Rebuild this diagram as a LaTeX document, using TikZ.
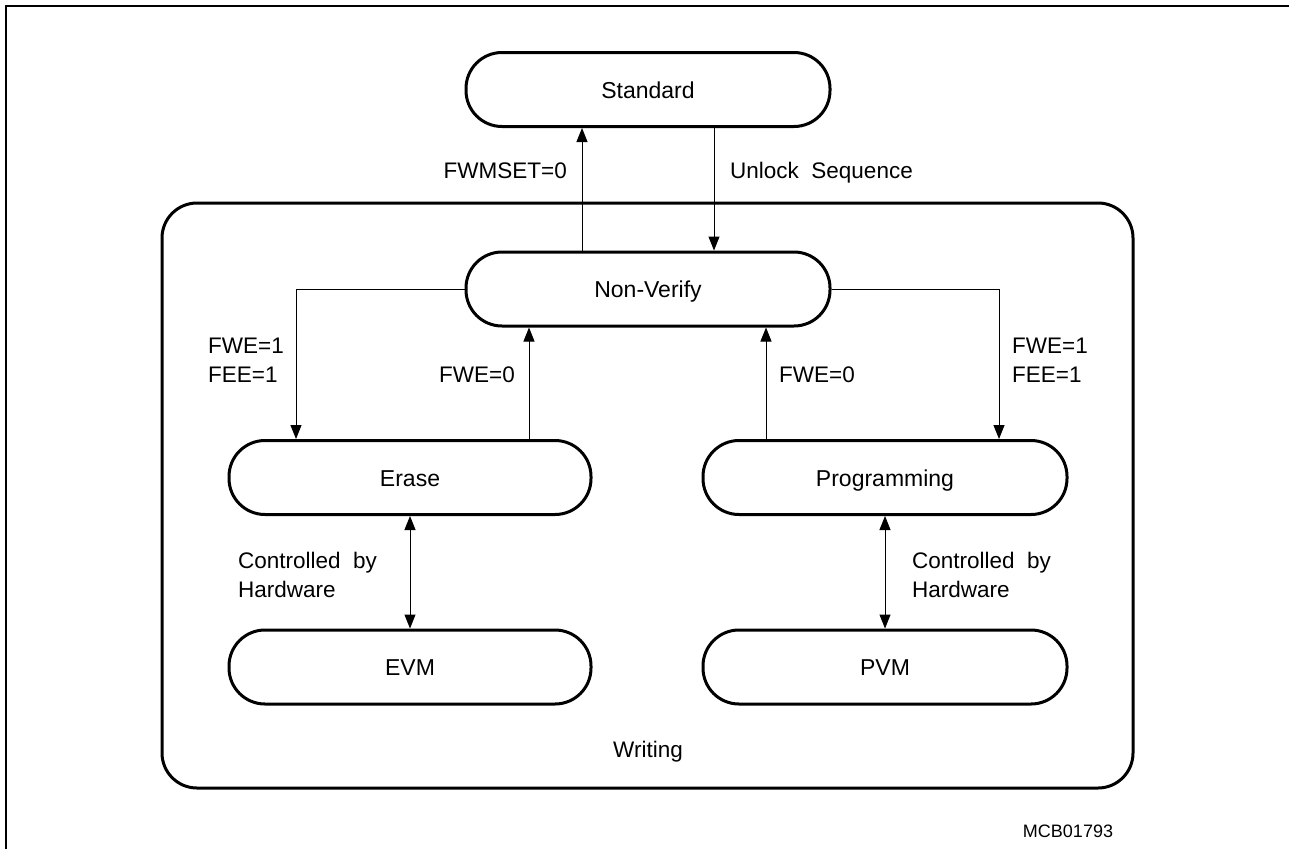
\documentclass[tikz,border=0pt]{standalone}
\usepackage{fontspec}
\setmainfont{Liberation Sans}
\usetikzlibrary{arrows.meta}
\tikzset{
  state/.style={draw, line width=3pt, rounded corners=36pt, minimum width=364pt, minimum height=74pt,
    inner sep=0pt, text height=17pt, text depth=0pt, font=\fontsize{23}{28}\selectfont},
  lbl/.style={inner sep=0pt, align=left, font=\fontsize{22.5}{29}\selectfont},
  conn/.style={line width=1pt, -{Triangle[length=14pt,width=11pt]}},
  dconn/.style={line width=1pt, {Triangle[length=14pt,width=11pt]}-{Triangle[length=14pt,width=11pt]}},
}
\begin{document}
\begin{tikzpicture}[x=1pt,y=-1pt]
\useasboundingbox (0,0) rectangle (1289,849);
% outer frame (only top and left edges visible)
\draw[line width=2pt] (6,849) -- (6,6) -- (1289,6);
% writing region
\draw[line width=3pt, rounded corners=35pt] (162,203) rectangle (1133,788);
\node[lbl, anchor=base] (wr) at (648,757) {Writing};

\node[state] (std) at (648,89.5) {Standard};
\node[state] (nv) at (648,289) {Non{-}Verify};
\node[state, minimum width=362pt] (er) at (410,477.5) {Erase};
\node[state] (pr) at (885,477.5) {Programming};
\node[state, minimum width=362pt] (evm) at (410,667) {EVM};
\node[state] (pvm) at (885,667) {PVM};

\coordinate (xa) at (582,0);
\coordinate (xb) at (714,0);
\coordinate (xl) at (296,0);
\coordinate (xe) at (529,0);
\coordinate (xp) at (766,0);
\coordinate (xr) at (999,0);

\draw[conn] (nv.north -| xa) -- (std.south -| xa);
\draw[conn] (std.south -| xb) -- (nv.north -| xb);
\draw[conn] (nv.west) -| (er.north -| xl);
\draw[conn] (er.north -| xe) -- (nv.south -| xe);
\draw[conn] (pr.north -| xp) -- (nv.south -| xp);
\draw[conn] (nv.east) -| (pr.north -| xr);
\draw[dconn] (er.south) -- (evm.north);
\draw[dconn] (pr.south) -- (pvm.north);

\node[lbl, anchor=base east] (l1) at (567,178) {FWMSET=0};
\node[lbl, anchor=base west] (l2) at (730,178) {Unlock~~Sequence};
\node[lbl, anchor=base west] (l3) at (208,382) {FWE=1\\FEE=1};
\node[lbl, anchor=base east] (l4) at (515,382) {FWE=0};
\node[lbl, anchor=base west] (l5) at (779,382) {FWE=0};
\node[lbl, anchor=base west] (l6) at (1012,382) {FWE=1\\FEE=1};
\node[lbl, anchor=base west] (l7) at (238,597) {Controlled~~by\\Hardware};
\node[lbl, anchor=base west] (l8) at (912,597) {Controlled~~by\\Hardware};
\node[inner sep=0pt, anchor=base, font=\fontsize{18}{22}\selectfont] (mcb) at (1068,837) {MCB01793};
\end{tikzpicture}
\end{document}
